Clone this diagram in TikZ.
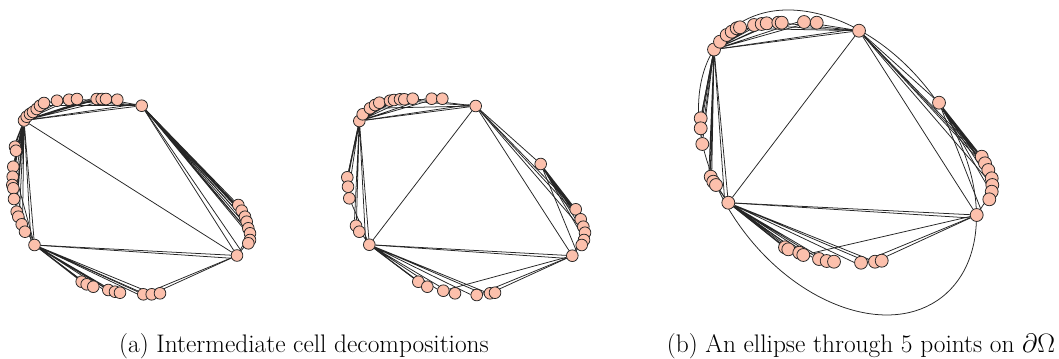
\documentclass[tikz,border=0pt]{standalone}
\usepackage{amsfonts, amssymb, amsmath}
\usetikzlibrary{backgrounds}

\definecolor{ptfill}{RGB}{252,192,172}
\tikzset{
  pt/.style={circle, draw=black!85, fill=ptfill, line width=0.5pt, inner sep=0pt, minimum size=7.6pt},
  bigpt/.style={pt, minimum size=8.4pt},
  edge/.style={draw=black!85, line width=0.5pt},
  caption/.style={anchor=base, font=\fontsize{16.5}{19}\selectfont},
}

\begin{document}
\begin{tikzpicture}[x=0.65pt, y=-0.65pt]
    \useasboundingbox (0,0) rectangle (1059,358);

    % (a), left: corners, then the clusters on the boundary
    \node[pt] (Lnw) at (24,120.5) {};
    \node[pt] (Lne) at (141.7,105.7) {};
    \node[pt] (Lsw) at (34.5,245) {};
    \node[pt] (Lse) at (237,255.5) {};
    \foreach \x/\y [count=\i] in {26.7/116.7, 30/114, 33/112, 36.7/109, 40/105.7, 44/103, 57/100.7,
        69/99.7, 77/99, 96.7/99, 101.7/99, 106/99, 117.3/99.7}
        \node[pt] (Ltop\i) at (\x,\y) {};
    \foreach \x/\y [count=\i] in {15/146.7, 16/150.7, 13.3/166.7, 12.7/176.7, 12.3/185, 13.3/188.3,
        14/199, 16.7/211.7, 18.3/216.7, 21.7/224.3, 25/231.7}
        \node[pt] (Lleft\i) at (\x,\y) {};
    \foreach \x/\y [count=\i] in {238.3/205, 241.7/210.7, 245/216.7, 246.7/221.7, 248.3/228.3,
        250/233.3, 250/240, 248.3/243.3}
        \node[pt] (Lright\i) at (\x,\y) {};
    \foreach \x/\y [count=\i] in {81.7/281.7, 86.7/284.3, 93.3/286.7, 108.3/290, 115/291.7,
        120/292.7, 143.3/294.3, 151.7/294.3, 160/293.3}
        \node[pt] (Lbot\i) at (\x,\y) {};

    % (a), middle
    \node[pt] (Mnw) at (359.3,121) {};
    \node[pt] (Mne) at (475.7,106) {};
    \node[pt] (Msw) at (369.3,244.7) {};
    \node[pt] (Mse) at (572.3,255.7) {};
    \node[pt] (Mlone) at (540.7,164) {};
    \foreach \x/\y [count=\i] in {362.7/114.3, 370/108.3, 375/105, 379.3/102.7, 390/100.7, 394/100,
        400/99.3, 404.3/99.3, 412.7/98.7, 431.7/98.7, 442.3/98.7}
        \node[pt] (Mtop\i) at (\x,\y) {};
    \foreach \x/\y [count=\i] in {347.3/177.3, 348/186.7, 349.3/198.3, 356/225.7, 359.3/231.7}
        \node[pt] (Mleft\i) at (\x,\y) {};
    \foreach \x/\y [count=\i] in {575.7/209.3, 580.7/219.3, 583.3/226.7, 585/232.7, 584/240, 581.7/245}
        \node[pt] (Mright\i) at (\x,\y) {};
    \foreach \x/\y [count=\i] in {418.3/281.7, 427.3/286.7, 443.3/290.7, 455/293.3, 476.7/295,
        490/293.3, 495/292.7}
        \node[pt] (Mbot\i) at (\x,\y) {};

    % (b), right
    \node[bigpt] (Rnw) at (714,49.5) {};
    \node[bigpt] (Rne) at (859,30.7) {};
    \node[bigpt] (Rsw) at (728.3,202.7) {};
    \node[bigpt] (Rse) at (976.7,215) {};
    \node[bigpt] (Rlone) at (939,102.7) {};
    \foreach \x/\y [count=\i] in {720/41.7, 726.7/35, 731.7/31.7, 736.7/28.3, 740/27.3, 754/25,
        761.7/24, 766.7/23.3, 778.3/22.7, 781.7/22.7, 804/22, 816.7/22.7}
        \node[bigpt] (Rtop\i) at (\x,\y) {};
    \foreach \x/\y [count=\i] in {700.7/118.3, 700.7/128.3, 702.3/144, 710.7/176.7, 713.3/181.7, 716/185}
        \node[bigpt] (Rleft\i) at (\x,\y) {};
    \foreach \x/\y [count=\i] in {981.7/156.7, 985/163.3, 988.3/170, 991.7/178.3, 992.3/185,
        991.7/191.7, 989.3/199.3}
        \node[bigpt] (Rright\i) at (\x,\y) {};
    \foreach \x/\y [count=\i] in {785/247.3, 788.3/249.3, 799.3/252.7, 803.3/255, 819/259, 826.7/261,
        834/261.7, 861/262.7, 875/261.7, 881.7/260.7}
        \node[bigpt] (Rbot\i) at (\x,\y) {};
    \coordinate (Rctr) at (837.5,162.5);

    % edges go under the points
    \begin{scope}[on background layer]
        \draw[edge] (Lnw) -- (Lne) -- (Lse) -- (Lsw) -- (Lnw) -- (Lse);
        \draw[edge] (Lnw) \foreach \i in {1,...,13} {-- (Ltop\i)} -- (Lne);
        \draw[edge] (Lnw) \foreach \i in {1,...,11} {-- (Lleft\i)} -- (Lsw);
        \draw[edge] (Lne) \foreach \i in {1,...,8} {-- (Lright\i)} -- (Lse);
        \draw[edge] (Lsw) \foreach \i in {1,...,9} {-- (Lbot\i)} -- (Lse);
        \foreach \i in {3,5} \draw[edge] (Lnw) -- (Ltop\i);
        \foreach \i in {5,7,9,12} \draw[edge] (Lne) -- (Ltop\i);
        \foreach \i in {2,3} \draw[edge] (Lnw) -- (Lleft\i);
        \foreach \i in {3,6,9} \draw[edge] (Lsw) -- (Lleft\i);
        \foreach \i in {2,3,4,6} \draw[edge] (Lne) -- (Lright\i);
        \foreach \i in {6,7} \draw[edge] (Lse) -- (Lright\i);
        \foreach \i in {2,4,7} \draw[edge] (Lsw) -- (Lbot\i);
        \foreach \i in {7,8} \draw[edge] (Lse) -- (Lbot\i);

        \draw[edge] (Mnw) -- (Mne) -- (Mse) -- (Msw) -- (Mnw);
        \draw[edge] (Mne) -- (Msw);
        \draw[edge] (Mnw) \foreach \i in {1,...,11} {-- (Mtop\i)} -- (Mne);
        \draw[edge] (Mnw) \foreach \i in {1,...,5} {-- (Mleft\i)} -- (Msw);
        \draw[edge] (Mne) -- (Mlone) \foreach \i in {1,...,6} {-- (Mright\i)} -- (Mse);
        \draw[edge] (Msw) \foreach \i in {1,...,7} {-- (Mbot\i)} -- (Mse);
        \foreach \i in {2,6,9} \draw[edge] (Mne) -- (Mtop\i);
        \foreach \i in {1} \draw[edge] (Mnw) -- (Mleft\i);
        \foreach \i in {3,4} \draw[edge] (Msw) -- (Mleft\i);
        \foreach \i in {1,2,4} \draw[edge] (Mne) -- (Mright\i);
        \foreach \i in {4,5} \draw[edge] (Mse) -- (Mright\i);
        \foreach \i in {1} \draw[edge] (Msw) -- (Mbot\i);
        \foreach \i in {3,5,6} \draw[edge] (Mse) -- (Mbot\i);

        \draw[edge] (Rnw) -- (Rne) -- (Rse) -- (Rsw) -- (Rnw);
        \draw[edge] (Rne) -- (Rsw);
        \draw[edge] (Rnw) \foreach \i in {1,...,12} {-- (Rtop\i)} -- (Rne);
        \draw[edge] (Rnw) \foreach \i in {1,...,6} {-- (Rleft\i)} -- (Rsw);
        \draw[edge] (Rne) -- (Rlone) \foreach \i in {1,...,7} {-- (Rright\i)} -- (Rse);
        \draw[edge] (Rsw) \foreach \i in {1,...,10} {-- (Rbot\i)} -- (Rse);
        \foreach \i in {3,5} \draw[edge] (Rnw) -- (Rtop\i);
        \foreach \i in {4,6,9,11} \draw[edge] (Rne) -- (Rtop\i);
        \foreach \i in {1,2,3,4} \draw[edge] (Rnw) -- (Rleft\i);
        \foreach \i in {4,5} \draw[edge] (Rsw) -- (Rleft\i);
        \foreach \i in {1,2,3,5} \draw[edge] (Rne) -- (Rright\i);
        \foreach \i in {6} \draw[edge] (Rse) -- (Rright\i);
        \foreach \i in {2,3} \draw[edge] (Rsw) -- (Rbot\i);
        \foreach \i in {4,8,9} \draw[edge] (Rse) -- (Rbot\i);
        \draw[edge, rotate around={-52.35:(Rctr)}] (Rctr) ellipse (170.4 and 116.3);
    \end{scope}

    \node[caption] (capa) at (304,352) {(a) Intermediate cell decompositions};
    \node[caption] (capb) at (861,352) {(b) An ellipse through 5 points on $\partial\Omega$};
\end{tikzpicture}
\end{document}
